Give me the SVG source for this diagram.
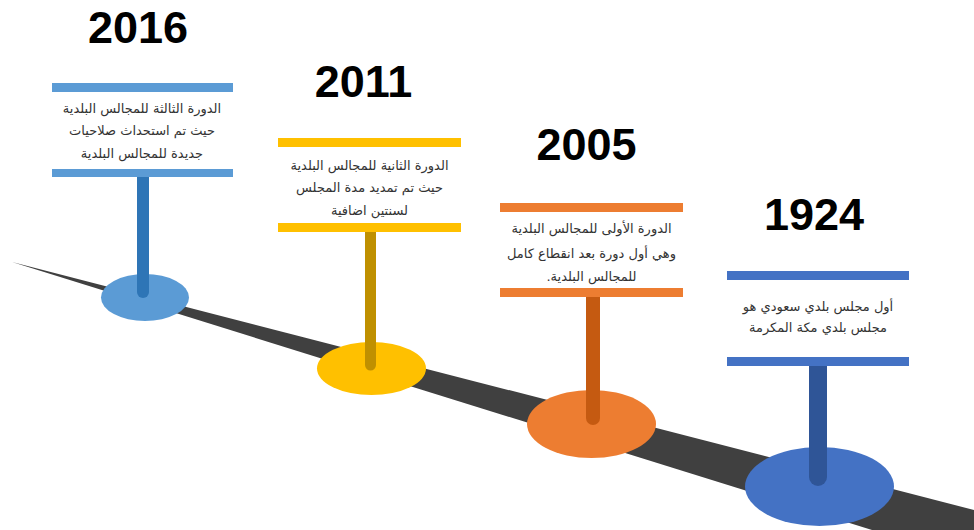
<svg xmlns="http://www.w3.org/2000/svg" width="974" height="530" viewBox="0 0 974 530">
<style>
.year{font-family:"Liberation Sans",Arial,sans-serif;font-weight:bold;font-size:45px;fill:#000;text-anchor:middle}
.desc{font-family:"DejaVu Sans","Noto Sans",sans-serif;font-size:13px;fill:#333;text-anchor:middle;direction:rtl}
.stem{stroke-linecap:round;fill:none}
</style>
<rect width="974" height="530" fill="#fff"/>
<g id="road">
<polygon points="12,262 974,510 974,530 872,530" fill="#404040"/>
</g>
<g id="node-2016">
<ellipse cx="145" cy="297.5" rx="44" ry="23.5" fill="#5B9BD5"/>
<line class="stem" x1="143" y1="177" x2="143" y2="292" stroke="#2E75B6" stroke-width="12"/>
<rect x="52" y="83" width="181" height="9" fill="#5B9BD5"/>
<rect x="52" y="169" width="181" height="8" fill="#5B9BD5"/>
<text class="desc" x="142" y="113">الدورة الثالثة للمجالس البلدية</text>
<text class="desc" x="142" y="135">حيث تم استحداث صلاحيات</text>
<text class="desc" x="142" y="158">جديدة للمجالس البلدية</text>
<text class="year" x="138" y="43">2016</text>
</g>
<g id="node-2011">
<ellipse cx="371.5" cy="368.5" rx="54.5" ry="26.5" fill="#FFC000"/>
<line class="stem" x1="370.5" y1="232" x2="370.5" y2="365" stroke="#BF9000" stroke-width="11"/>
<rect x="278" y="138" width="183" height="9" fill="#FFC000"/>
<rect x="278" y="223" width="183" height="9" fill="#FFC000"/>
<text class="desc" x="369.5" y="170">الدورة الثانية للمجالس البلدية</text>
<text class="desc" x="369.5" y="192">حيث تم تمديد مدة المجلس</text>
<text class="desc" x="369.5" y="215">لسنتين اضافية</text>
<text class="year" x="363.5" y="97">2011</text>
</g>
<g id="node-2005">
<ellipse cx="591.5" cy="424" rx="64.5" ry="34" fill="#ED7D31"/>
<line class="stem" x1="593" y1="297" x2="593" y2="418" stroke="#C55A11" stroke-width="14"/>
<rect x="500" y="203" width="183" height="9" fill="#ED7D31"/>
<rect x="500" y="288" width="183" height="9" fill="#ED7D31"/>
<text class="desc" x="591.5" y="233">الدورة الأولى للمجالس البلدية</text>
<text class="desc" x="591.5" y="258">وهي أول دورة بعد انقطاع كامل</text>
<text class="desc" x="591.5" y="281">للمجالس البلدية.</text>
<text class="year" x="586.5" y="160">2005</text>
</g>
<g id="node-1924">
<ellipse cx="819.5" cy="486.5" rx="74.5" ry="39.5" fill="#4472C4"/>
<line class="stem" x1="818" y1="366" x2="818" y2="477" stroke="#2F5597" stroke-width="18"/>
<rect x="727" y="271" width="182" height="9" fill="#4472C4"/>
<rect x="727" y="357" width="182" height="9" fill="#4472C4"/>
<text class="desc" x="818" y="311">أول مجلس بلدي سعودي هو</text>
<text class="desc" x="818" y="332">مجلس بلدي مكة المكرمة</text>
<text class="year" x="814" y="230">1924</text>
</g>
</svg>
